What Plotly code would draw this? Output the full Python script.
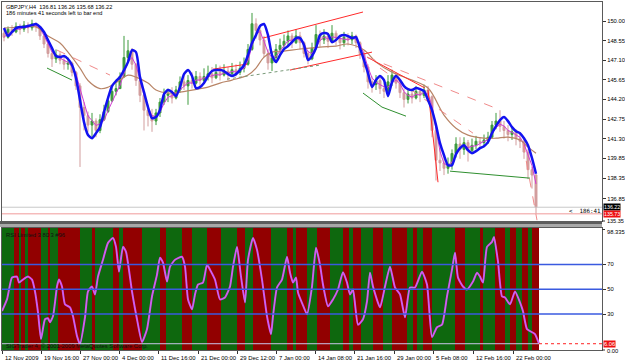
import plotly.graph_objects as go
import pandas as pd

# ---------------- data ----------------
title_line1 = "GBPJPY,H4  136.81 136.26 135.68 136.22"
title_line2 = "186 minutes 41 seconds left to bar end"
rsi_title = "RSI Limited 3 80 3 #96"
copyright_text = "SIGTrader 4, \u00a9 2001-2009 MetaQuotes Software Corp."
timer_text = "<  186:41"

first_open = 149.1
close = [148.8, 149.4, 149.2, 149.6, 149.4, 149.7, 149.5, 149.8, 149.6, 148.9,
         148.3, 147.6, 147.2, 147.5, 147.1, 146.8, 146.9, 146.2, 145.2, 143.6,
         143.0, 142.3, 142.6, 141.9, 142.7, 143.3, 144.1, 144.8, 145.0, 145.9,
         147.3, 147.8, 146.8, 145.6, 144.5, 143.4, 143.0, 142.6, 143.2, 144.0,
         144.5, 144.6, 144.3, 144.9, 145.5, 145.2, 145.6, 145.4, 145.9, 145.6,
         145.9, 146.1, 145.8, 146.2, 146.0, 146.3, 146.1, 146.4, 146.2, 146.5,
         146.8, 147.9, 149.8, 149.3, 148.6, 147.6, 146.9, 147.3, 147.9, 148.2,
         148.5, 148.9, 148.4, 148.9, 148.4, 147.6, 147.2, 148.0, 149.0, 148.6,
         148.9, 148.5, 149.1, 148.7, 148.4, 148.8, 148.6, 148.9, 148.4, 147.6,
         146.6, 145.5, 145.3, 145.6, 145.0, 144.8, 145.5, 146.0, 145.4, 144.7,
         144.2, 144.6, 144.3, 144.8, 144.5, 144.9, 144.4, 141.9, 139.7, 139.5,
         139.1, 139.4, 140.2, 140.9, 140.5, 141.0, 140.4, 140.8, 141.1, 141.0,
         141.2, 141.4, 142.3, 142.6, 142.2, 141.9, 141.6, 141.8, 141.3, 141.1,
         140.3, 139.0, 138.6, 136.22]
high = [149.3, 149.6, 149.7, 149.9, 149.8, 150.0, 149.9, 150.1, 149.9, 149.6,
        149.0, 148.4, 147.8, 147.9, 147.7, 147.4, 147.3, 147.0, 146.3, 145.4,
        144.0, 143.3, 143.2, 142.8, 143.1, 143.8, 144.4, 145.1, 145.4, 146.2,
        148.9, 148.6, 148.0, 146.9, 145.7, 144.6, 143.8, 143.5, 143.5, 144.3,
        145.0, 145.0, 145.1, 145.2, 145.9, 146.0, 146.0, 146.2, 146.3, 146.2,
        146.5, 146.7, 146.6, 146.8, 146.7, 146.8, 146.6, 146.9, 146.8, 147.0,
        147.3, 148.3, 150.6, 150.2, 149.6, 148.9, 147.9, 147.7, 148.3, 148.7,
        149.0, 149.3, 149.1, 149.4, 149.2, 148.5, 147.8, 148.4, 149.7, 149.3,
        149.4, 149.1, 149.7, 149.3, 149.0, 149.2, 149.1, 149.2, 149.0, 148.5,
        147.8, 146.8, 145.9, 146.0, 145.9, 145.4, 146.0, 146.4, 146.2, 145.6,
        145.0, 145.0, 145.0, 145.2, 145.0, 145.3, 145.2, 144.5, 142.2, 140.6,
        140.1, 139.9, 140.5, 141.4, 141.4, 141.4, 141.2, 141.3, 141.5, 141.4,
        141.6, 141.8, 142.6, 143.2, 143.4, 142.6, 142.3, 142.2, 142.0, 141.7,
        141.4, 140.5, 139.2, 138.7]
low = [148.5, 148.7, 148.9, 149.1, 149.0, 149.2, 149.1, 149.3, 149.2, 148.6,
       148.0, 147.3, 146.6, 146.9, 146.8, 146.4, 146.4, 145.9, 144.9, 139.2,
       141.9, 141.8, 141.3, 141.4, 141.7, 142.6, 143.2, 144.0, 144.5, 145.0,
       145.8, 147.0, 146.4, 145.2, 144.0, 141.9, 142.2, 141.8, 142.3, 142.9,
       143.8, 144.0, 143.9, 144.2, 144.7, 144.9, 143.8, 145.0, 145.3, 145.2,
       145.4, 145.6, 145.4, 145.7, 145.6, 145.9, 145.6, 145.9, 145.9, 146.0,
       146.2, 146.7, 147.8, 148.7, 148.2, 147.3, 146.4, 146.3, 147.1, 147.6,
       148.0, 148.2, 148.0, 148.3, 147.9, 147.3, 146.8, 147.1, 147.9, 148.1,
       148.3, 148.0, 148.4, 148.2, 147.9, 148.1, 148.2, 148.3, 148.0, 147.2,
       146.2, 145.0, 144.7, 144.9, 144.6, 144.3, 144.6, 145.2, 145.0, 144.3,
       143.6, 143.9, 143.9, 144.2, 144.0, 144.3, 144.0, 141.4, 138.2, 138.9,
       138.6, 138.7, 139.0, 139.9, 139.8, 140.1, 139.6, 140.2, 140.5, 140.6,
       140.7, 140.9, 141.3, 142.0, 141.8, 141.3, 141.1, 141.2, 140.8, 140.6,
       139.8, 138.3, 137.6, 135.73]

# blue moving average, one value per bar
blue_ma = [149.48, 148.89, 149.19, 149.48, 149.56, 149.56, 149.63, 149.70, 149.78, 149.56,
           149.19, 148.59, 148.00, 147.41, 147.33, 147.41, 147.19, 146.74, 145.78, 144.15,
           142.52, 141.56, 141.33, 141.70, 142.15, 143.26, 144.30, 145.19, 145.56, 145.85,
           146.37, 146.96, 147.85, 147.70, 145.85, 144.74, 143.63, 142.81, 142.89, 143.41,
           144.59, 144.89, 144.74, 144.44, 145.11, 146.07, 146.37, 145.93, 145.04, 145.11,
           145.41, 145.93, 146.30, 146.37, 146.37, 146.30, 146.07, 145.93, 146.07, 146.37,
           146.74, 147.48, 148.37, 148.96, 149.63, 149.78, 148.96, 147.48, 146.96, 147.48,
           147.93, 148.15, 148.44, 148.74, 148.74, 148.22, 147.11, 147.41, 148.00, 148.96,
           149.11, 149.04, 148.44, 148.59, 148.89, 148.96, 148.89, 148.74, 148.81, 148.00,
           147.11, 146.15, 145.11, 145.63, 145.93, 145.63, 144.44, 145.48, 145.93, 145.63,
           145.19, 144.96, 144.89, 145.04, 144.96, 144.81, 144.15, 143.41, 142.30, 140.96,
           140.07, 139.33, 139.33, 140.15, 140.59, 140.81, 140.44, 140.22, 140.37, 140.59,
           140.74, 141.04, 141.70, 142.22, 142.67, 142.89, 142.59, 142.15, 141.85, 141.70,
           141.33, 140.81, 139.85, 138.70]

# slow (brown) moving average
brown_x = [0, 4, 8, 11, 14, 16, 19, 21, 24, 26, 29, 31, 33, 36, 38, 41, 44, 47, 51, 54,
           57, 61, 63, 65, 67, 70, 74, 79, 83, 86, 90, 93, 97, 102, 106, 110, 113, 116,
           120, 123, 126, 129, 131, 133]
brown_y = [149.48, 149.56, 149.56, 148.89, 148.37, 147.70, 146.52, 145.60, 145.00, 145.10,
           145.63, 146.00, 145.85, 145.41, 144.89, 144.67, 144.74, 144.89, 145.11, 145.41,
           145.63, 146.00, 146.52, 147.33, 147.70, 147.78, 147.93, 148.07, 148.15, 148.30,
           147.85, 146.96, 146.22, 145.63, 145.04, 143.04, 142.07, 141.56, 141.33, 141.33,
           141.41, 141.19, 140.67, 140.22]

# trend lines: start bar, start price, end bar, end price, kind
tl_x0 = [13.25, 10.75, 64.75, 71.5, 52.25, 55.75, 90.75, 90.75, 94.0, 106.0, 89.75, 94.5, 111.5, 129.75]
tl_y0 = [147.85, 146.52, 148.74, 146.37, 146.44, 145.70, 147.33, 147.33, 146.52, 144.89, 144.67, 143.63, 138.89, 140.96]
tl_x1 = [26.5, 17.0, 89.75, 92.0, 60.75, 79.0, 105.25, 122.25, 117.25, 108.5, 94.5, 100.5, 131.5, 133.25]
tl_y1 = [146.00, 145.63, 150.67, 147.70, 146.81, 146.74, 145.04, 143.63, 141.70, 138.07, 143.63, 142.96, 138.37, 135.26]
tl_kind = ["reddash", "green", "red", "red", "red", "graydash", "red", "reddash", "reddash",
           "red", "green", "green", "green", "reddash"]

price_ticks = [150.00, 148.55, 147.10, 145.65, 144.20, 142.75, 141.30, 139.85, 138.35, 136.85]
price_bottom_label = 135.35
bid_price = 136.22
low_price = 135.73

# RSI
rsi_x = [-0.5, 0.75, 2, 3.25, 3.75, 4.75, 6, 7, 7.75, 8.5, 9.25, 10.25, 11, 11.5, 12.25, 13.25,
         13.75, 14.5, 15.25, 16.5, 17.25, 18.25, 19, 20.25, 21, 22, 22.75, 23.5, 24.75, 26,
         27.25, 28, 28.75, 29.75, 30.5, 32, 33.25, 34.5, 35.75, 37, 38.25, 39, 39.75, 40.75,
         41.5, 42.75, 44.5, 45.25, 46, 47, 47.75, 48.5, 49.75, 50.75, 51.5, 52.75, 54, 55.25,
         56.5, 57.25, 58.25, 59.25, 60.25, 61, 62.25, 63.25, 64.5, 65.75, 66.75, 67.25, 68.25,
         69.5, 70.75, 71.5, 72.25, 73, 73.5, 74.75, 75.75, 77, 78, 79, 79.75, 81, 82.25, 83.5,
         84.75, 85.75, 86.5, 87.25, 88.5, 89.75, 90.75, 91.5, 92.25, 94, 95.25, 96.5, 97.75,
         99, 100.25, 101.5, 102.75, 104.5, 105.75, 107, 108.25, 109.5, 110.75, 112, 112.75,
         113.5, 114.75, 115.75, 117.25, 118.25, 119, 119.75, 120.75, 122, 122.5, 123.5,
         124.5, 125.25, 126.5, 127.75, 129, 129.75, 130.75, 132, 132.75, 133.75]
rsi_y = [32.4, 41.8, 59.4, 60.2, 55.4, 57.8, 60.2, 57.8, 48.2, 31.4, 9.8, 25.8, 26.6, 23.4,
         28.2, 52.2, 57.8, 52.2, 37.8, 35.4, 28.2, 12.2, 5.8, 27.4, 48.2, 52.2, 45.8, 60.2,
         73.8, 87.4, 91.4, 84.2, 64.2, 84.2, 80.2, 48.2, 25.8, 7.4, 17.8, 44.2, 61.8, 75.4,
         71.4, 56.2, 68.2, 73.8, 76.2, 68.2, 41.8, 33.8, 45.8, 53.8, 55.4, 69.8, 65.8, 57.8,
         41.8, 43.4, 52.2, 68.2, 84.2, 60.2, 39.4, 73.8, 91.4, 81.8, 57.8, 28.2, 13.8, 28.2,
         51.4, 57.8, 76.2, 63.4, 55.4, 59.4, 47.4, 37.0, 29.8, 52.2, 83.4, 69.8, 53.8, 36.2,
         41.8, 49.8, 63.8, 55.4, 45.8, 49.8, 21.4, 25.8, 40.2, 63.4, 52.2, 35.4, 52.2, 68.2,
         51.4, 45.8, 27.4, 51.4, 51.4, 64.2, 53.8, 11.4, 19.4, 21.4, 44.2, 65.8, 79.4, 59.4,
         52.2, 49.8, 56.2, 63.4, 60.2, 55.4, 84.2, 88.2, 92.2, 72.2, 44.2, 43.4, 37.8, 48.2,
         39.4, 32.2, 17.8, 15.4, 13.8, 6.06]
rsi_levels = [70, 50, 30]
rsi_top_label = "98.335"
rsi_bottom_label = "0.00"
rsi_last = 6.06

# trend background bands (edges in bars), alternating up / down starting with up
band_edges = [-0.5, 2.5, 3.75, 4.25, 5.25, 6, 9.25, 11, 11.5, 13.5, 19, 22, 22.75, 27.25, 28.75,
              29.75, 34.5, 39, 40.5, 44.5, 47, 50.75, 54.25, 58.25, 60.25, 62.25, 66.75, 70.75,
              72.25, 73, 75.75, 78.25, 81.5, 84.75, 86.25, 87.25, 89.25, 92.25, 94.75, 97,
              100.75, 102.25, 103.25, 104.75, 107, 112.75, 115.25, 119, 119.75, 122.75, 125.25,
              126.5, 128, 129.5, 131, 132, 133.75]

# time axis
time_tick_pos = [-0.5, 9.25, 19, 28.75, 38.5, 48.5, 58.25, 68, 77.75, 87.5, 97.5, 107.25, 117.25, 127.25]
time_labels = ["12 Nov 2009", "19 Nov 16:00", "27 Nov 00:00", "4 Dec 00:00", "11 Dec 16:00",
               "21 Dec 00:00", "29 Dec 12:00", "7 Jan 00:00", "14 Jan 08:00", "21 Jan 16:00",
               "29 Jan 00:00", "5 Feb 08:00", "12 Feb 16:00", "22 Feb 00:00"]

# ---------------- styling / layout helpers ----------------
W, H = 625, 364
FONT = "Liberation Sans"
def fx(p):
    return p / W
def fy(p):
    return 1 - p / H

X_RANGE = [-0.5, 149.5]
PRICE_RANGE = [135.20, 151.41]
RSI_RANGE = [1.0, 99.4]

bars = list(range(len(close)))
opens = [first_open] + close[:-1]
fast_ma = pd.Series(close).rolling(3, min_periods=1).mean().tolist()

fig = go.Figure()

# RSI background bands (green for up, dark red for down)
band_centers = [(a + b) / 2 for a, b in zip(band_edges[:-1], band_edges[1:])]
band_widths = [b - a for a, b in zip(band_edges[:-1], band_edges[1:])]
band_up = [i % 2 == 0 for i in range(len(band_centers))]
fig.add_trace(go.Bar(x=band_centers, y=[RSI_RANGE[1] - RSI_RANGE[0]] * len(band_centers),
                     base=RSI_RANGE[0], width=band_widths,
                     marker=dict(color=["#0e680e" if u else "#920000" for u in band_up],
                                 line=dict(width=0)),
                     xaxis="x2", yaxis="y2", hoverinfo="skip", showlegend=False))

# price candles
fig.add_trace(go.Candlestick(x=bars, open=opens, high=high, low=low, close=close,
                             increasing=dict(line=dict(color="#3f9b3f", width=1), fillcolor="#3f9b3f"),
                             decreasing=dict(line=dict(color="#d29d9d", width=1), fillcolor="#d29d9d"),
                             whiskerwidth=0, xaxis="x", yaxis="y", showlegend=False))

fig.add_trace(go.Scatter(x=bars, y=fast_ma, mode="lines", line=dict(color="#d23cd2", width=1),
                         xaxis="x", yaxis="y", showlegend=False))
fig.add_trace(go.Scatter(x=brown_x, y=brown_y, mode="lines", line=dict(color="#b88466", width=1.2, shape="spline"),
                         xaxis="x", yaxis="y", showlegend=False))

styles = {
    "red": dict(color="#ff2a2a", width=1),
    "reddash": dict(color="#f08a8a", width=1, dash="dash"),
    "green": dict(color="#2f8f2f", width=1),
    "graydash": dict(color="#7a9a7a", width=1, dash="dot"),
}
for x0, y0, x1, y1, k in zip(tl_x0, tl_y0, tl_x1, tl_y1, tl_kind):
    fig.add_trace(go.Scatter(x=[x0, x1], y=[y0, y1], mode="lines", line=styles[k],
                             xaxis="x", yaxis="y", showlegend=False, hoverinfo="skip"))

fig.add_trace(go.Scatter(x=bars, y=blue_ma, mode="lines", line=dict(color="#1212f0", width=2.5, shape="spline", smoothing=0.6),
                         xaxis="x", yaxis="y", showlegend=False))

# RSI line
fig.add_trace(go.Scatter(x=rsi_x, y=rsi_y, mode="lines", line=dict(color="#e334e3", width=2, shape="spline", smoothing=0.5),
                         xaxis="x2", yaxis="y2", showlegend=False))
fig.add_trace(go.Scatter(x=rsi_x, y=rsi_y, mode="lines", line=dict(color="#8cc8ff", width=0.7, shape="spline", smoothing=0.5),
                         xaxis="x2", yaxis="y2", showlegend=False, opacity=0.7))

shapes = []
# current price lines
shapes.append(dict(type="line", xref="x domain", yref="y", x0=0, x1=1, y0=bid_price, y1=bid_price,
                   line=dict(color="#c8c8c8", width=1)))
shapes.append(dict(type="line", xref="x domain", yref="y", x0=0, x1=1, y0=low_price, y1=low_price,
                   line=dict(color="#f09a9a", width=1)))
# RSI levels
for lv in rsi_levels:
    shapes.append(dict(type="line", xref="x2 domain", yref="y2", x0=0, x1=1, y0=lv, y1=lv,
                       line=dict(color="#3a5ae0", width=1.5)))
shapes.append(dict(type="line", xref="x2", yref="y2", x0=X_RANGE[0], x1=band_edges[-1], y0=rsi_last, y1=rsi_last,
                   line=dict(color="#c9c4ea", width=1)))
shapes.append(dict(type="line", xref="x2", yref="y2", x0=band_edges[-1], x1=X_RANGE[1], y0=rsi_last, y1=rsi_last,
                   line=dict(color="#ff2020", width=1, dash="dot")))
# panel separator
shapes.append(dict(type="rect", xref="paper", yref="paper", x0=0, x1=fx(602), y0=fy(224), y1=fy(221),
                   fillcolor="#5c5c5c", line=dict(width=0), layer="above"))
shapes.append(dict(type="rect", xref="paper", yref="paper", x0=0, x1=fx(602), y0=fy(227), y1=fy(224),
                   fillcolor="#a8a8a8", line=dict(width=0), layer="above"))
# small ticks for annotated axis values
for yy in (221.0, 229.5, 350.0):
    shapes.append(dict(type="line", xref="paper", yref="paper", x0=fx(602), x1=fx(605), y0=fy(yy), y1=fy(yy),
                       line=dict(color="#333333", width=1)))

ann = []
def text(x, y, s, size=6, color="#000000", anchor="left", bg=None, family=FONT):
    d = dict(x=fx(x), y=fy(y), xref="paper", yref="paper", text=s, showarrow=False,
             xanchor=anchor, yanchor="middle", font=dict(family=family, size=size, color=color))
    if bg:
        d.update(bgcolor=bg, borderpad=0)
    ann.append(d)

text(4, 6.5, title_line1, size=5.6)
text(4, 13, title_line2, size=5.6)
text(4, 235, rsi_title, size=5.8, color="#101010")
text(4, 346, copyright_text, size=5.8, color="#101010")
text(567, 211, timer_text, size=5.8, family="DejaVu Sans Mono")
text(603, 207.3, f"{bid_price:.2f}", size=5.3, color="#ffffff", bg="#000000")
text(603, 214.0, f"{low_price:.2f}", size=5.3, color="#ffffff", bg="#ee1010")
text(605, 221.3, f"{price_bottom_label:.2f}", size=5.5)
text(605, 232.5, rsi_top_label, size=5.8)
text(605, 351, rsi_bottom_label, size=5.8)
text(603, 344, f"{rsi_last:.2f}", size=5.8, color="#ffffff", bg="#ee1010")
for pos, lab in zip(time_tick_pos, time_labels):
    ann.append(dict(x=pos, y=fy(357.5), xref="x2", yref="paper", text=lab, showarrow=False,
                    xanchor="left", yanchor="middle", xshift=1, font=dict(family=FONT, size=5.9, color="#000000")))

axis_common = dict(showgrid=False, zeroline=False, showline=True, mirror=True, linecolor="#5a5a5a", linewidth=1)

fig.update_layout(
    width=W, height=H, margin=dict(l=0, r=0, t=0, b=0),
    paper_bgcolor="#ffffff", plot_bgcolor="#ffffff", showlegend=False, bargap=0,
    xaxis=dict(domain=[fx(2), fx(602)], range=X_RANGE, anchor="y", showticklabels=False, ticks="",
               rangeslider=dict(visible=False), **axis_common),
    yaxis=dict(domain=[fy(221), fy(2)], range=PRICE_RANGE, anchor="x", side="right",
               tickvals=price_ticks, ticktext=[f"{v:.2f}" for v in price_ticks],
               ticks="outside", ticklen=3, tickcolor="#333333",
               tickfont=dict(family=FONT, size=5.8, color="#000000"), automargin=False, **axis_common),
    xaxis2=dict(domain=[fx(2), fx(602)], range=X_RANGE, anchor="y2", showticklabels=False,
                tickvals=time_tick_pos, ticks="outside", ticklen=3, tickcolor="#333333", **axis_common),
    yaxis2=dict(domain=[fy(350), fy(228)], range=RSI_RANGE, anchor="x2", side="right",
                tickvals=rsi_levels, ticktext=[str(v) for v in rsi_levels],
                ticks="outside", ticklen=3, tickcolor="#333333",
                tickfont=dict(family=FONT, size=5.8, color="#000000"), automargin=False, **axis_common),
    shapes=shapes, annotations=ann,
)

fig.write_html("out.html")
